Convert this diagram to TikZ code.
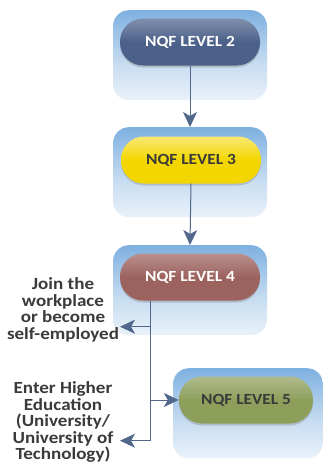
\documentclass[tikz,border=0pt]{standalone}
\usepackage{fontspec}
\setmainfont{Carlito}[FakeStretch=1.12]
\usetikzlibrary{arrows.meta,shadows,calc}
\definecolor{arrowc}{HTML}{52678C}
\definecolor{bdblue}{HTML}{2479BC}
\definecolor{bdtwo}{HTML}{4A96D4}
\definecolor{bdmid}{HTML}{86B5E2}
\definecolor{bdlight}{HTML}{C8DDF1}
\definecolor{ctwo}{HTML}{4C6189}
\definecolor{cthree}{HTML}{F3D600}
\definecolor{cfour}{HTML}{9C625E}
\definecolor{cfive}{HTML}{8E9F5C}
\definecolor{labc}{HTML}{3A3A3A}
\pgfdeclareverticalshading{bdshade}{100bp}{color(0bp)=(white); color(12bp)=(white); color(45bp)=(bdlight); color(72bp)=(bdmid); color(91bp)=(bdtwo); color(100bp)=(bdblue)}
\begin{document}
\begin{tikzpicture}[x=1pt,y=-1pt,
  backdrop/.style={rectangle, rounded corners=16pt, shading=bdshade, draw=none,
    minimum width=154pt, minimum height=90pt, anchor=north, inner sep=0pt},
  pill/.style={rectangle, rounded corners=23pt, minimum width=140pt, minimum height=47pt,
    font=\fontsize{15.5}{18}\selectfont\bfseries, draw=none,
    drop shadow={shadow xshift=0pt, shadow yshift=-2pt, opacity=0.35}},
  conn/.style={draw=arrowc, line width=1pt, -{Stealth[length=15pt,width=14pt,inset=4pt]}},
  plain/.style={draw=arrowc, line width=1pt},
  lab/.style={align=center, font=\fontsize{17}{16.5}\selectfont\bfseries, text=labc, inner sep=0pt}
]
\useasboundingbox (0,0) rectangle (323,463);
% backdrops
\node[backdrop] (b2) at (190,10) {};
\node[backdrop] (b3) at (190,127) {};
\node[backdrop] (b4) at (190,245) {};
\node[backdrop, minimum width=150pt] (b5) at (248,368) {};
% pills
\node[pill, top color=ctwo!70!white, bottom color=ctwo, middle color=ctwo, text=white] (l2) at (190,42) {NQF LEVEL 2};
\node[pill, top color=cthree!55!white, bottom color=cthree, middle color=cthree, text=labc] (l3) at (191,160) {NQF LEVEL 3};
\node[pill, top color=cfour!70!white, bottom color=cfour, middle color=cfour, text=white] (l4) at (190,277) {NQF LEVEL 4};
\node[pill, minimum width=134pt, top color=cfive!70!white, bottom color=cfive, middle color=cfive, text=labc] (l5) at (246,400) {NQF LEVEL 5};
% labels
\node[lab] (join) at (63,310) {Join the\\workplace\\or become\\self-employed};
\node[lab] (enter) at (63,422) {Enter Higher\\Education\\(University/\\University of\\Technology)};
% connectors
\draw[conn] (l2.south) -- (b3.north);
\draw[conn] (l3.south) -- (b4.north);
\coordinate (v0) at ($(l4.south)+(-40,0)$);
\coordinate (v1) at ($(v0)+(0,26)$);
\coordinate (v2) at (v0 |- l5.west);
\coordinate (v3) at ($(v0)+(0,140)$);
\coordinate (a1) at ($(v1)+(-30,0)$);
\coordinate (a3) at ($(v3)+(-30,0)$);
\draw[plain] (v0) -- (v3);
\draw[conn] (v1) -- (a1);
\draw[conn] (v2) -- (l5.west);
\draw[conn] (v3) -- (a3);
\end{tikzpicture}
\end{document}
